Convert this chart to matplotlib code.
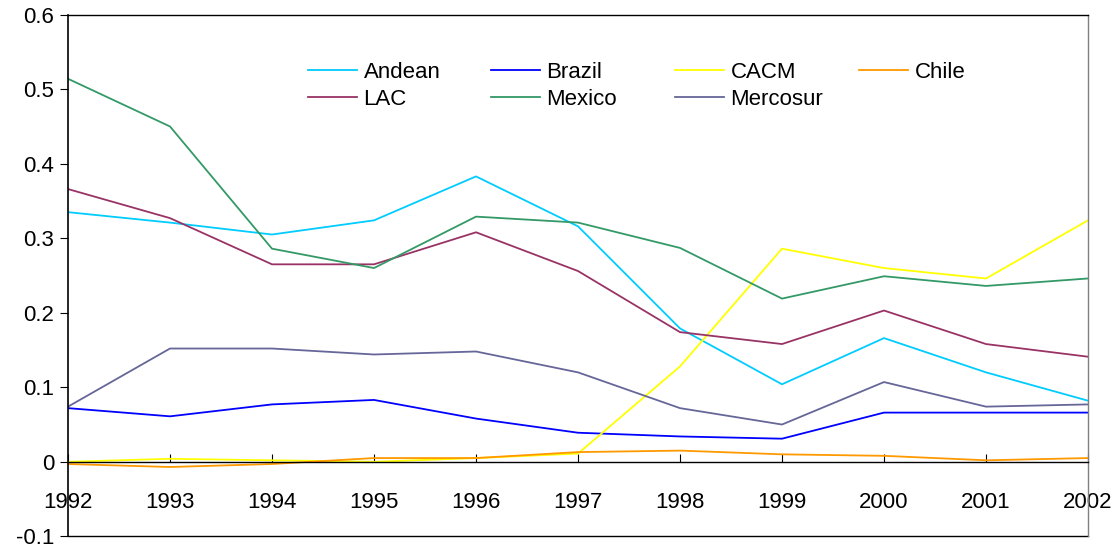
import matplotlib.pyplot as plt
from matplotlib.legend import Legend

plt.rcParams['font.family'] = ['Liberation Sans', 'DejaVu Sans']

years = [1992, 1993, 1994, 1995, 1996, 1997, 1998, 1999, 2000, 2001, 2002]

andean = [0.335, 0.321, 0.305, 0.324, 0.383, 0.316, 0.179, 0.104, 0.166, 0.120, 0.082]
brazil = [0.072, 0.061, 0.077, 0.083, 0.058, 0.039, 0.034, 0.031, 0.066, 0.066, 0.066]
cacm = [0.000, 0.004, 0.002, 0.000, 0.005, 0.011, 0.128, 0.286, 0.260, 0.246, 0.324]
chile = [-0.003, -0.007, -0.003, 0.005, 0.005, 0.013, 0.015, 0.010, 0.008, 0.002, 0.005]
lac = [0.366, 0.327, 0.265, 0.265, 0.308, 0.256, 0.174, 0.158, 0.203, 0.158, 0.141]
mexico = [0.514, 0.450, 0.286, 0.260, 0.329, 0.321, 0.287, 0.219, 0.249, 0.236, 0.246]
mercosur = [0.074, 0.152, 0.152, 0.144, 0.148, 0.120, 0.072, 0.050, 0.107, 0.074, 0.077]

series = [
    ("Andean", andean, "#00CCFF"),
    ("Brazil", brazil, "#0000FF"),
    ("CACM", cacm, "#FFFF00"),
    ("Chile", chile, "#FF9900"),
    ("LAC", lac, "#993366"),
    ("Mexico", mexico, "#339966"),
    ("Mercosur", mercosur, "#666699"),
]

fig = plt.figure(figsize=(11.16, 5.5), dpi=100)
ax = fig.add_axes([68 / 1116, 1 - 536.3 / 550, (1088 - 68) / 1116, (536.3 - 14.7) / 550])

handles = {}
for name, vals, col in series:
    line, = ax.plot(years, vals, color=col, lw=1.3, label=name)
    handles[name] = line

ax.set_xlim(1992, 2002)
ax.set_ylim(-0.1, 0.6)
ax.set_xticks(years)
ax.set_yticks([-0.1, 0, 0.1, 0.2, 0.3, 0.4, 0.5, 0.6])
ax.set_yticklabels(["-0.1", "0", "0.1", "0.2", "0.3", "0.4", "0.5", "0.6"])

# x axis sits on zero, ticks point up, labels well below
ax.spines['bottom'].set_position(('data', 0))
ax.spines['bottom'].set_linewidth(1.0)
ax.spines['left'].set_linewidth(1.2)
ax.spines['top'].set_linewidth(1.0)
ax.spines['right'].set_color('#808080')
ax.spines['right'].set_linewidth(1.0)
ax.tick_params(axis='x', direction='in', length=6, width=0.8, pad=22, labelsize=16, colors='black')
ax.tick_params(axis='y', direction='out', length=6, width=0.8, pad=4, labelsize=16)
ax.plot([0, 1], [0, 0], transform=ax.transAxes, color='black', lw=1.0, clip_on=False)

# legend laid out in fixed-width columns, row-wise like the original
cols = [["Andean", "LAC"], ["Brazil", "Mexico"], ["CACM", "Mercosur"], ["Chile"]]
xs = [308, 491, 675, 859]
for names, x in zip(cols, xs):
    leg = Legend(ax, [handles[n] for n in names], names, loc='upper left',
                 bbox_to_anchor=(x / 1116, 1 - 62 / 550), bbox_transform=fig.transFigure,
                 frameon=False, fontsize=16, borderpad=0, borderaxespad=0,
                 handlelength=2.2, handletextpad=0.3, labelspacing=0.25)
    ax.add_artist(leg)

fig.savefig("out.png", dpi=100)
